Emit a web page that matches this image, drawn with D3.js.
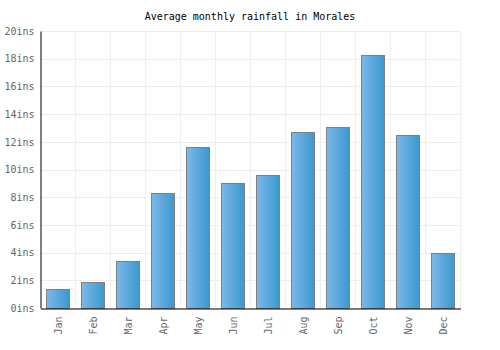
<!DOCTYPE html>
<html><head><meta charset="utf-8">
<script src="https://cdn.jsdelivr.net/npm/d3@7"></script>
<style>body{margin:0;background:#fff}svg{display:block}</style>
</head><body>
<script>
const months = ["Jan","Feb","Mar","Apr","May","Jun","Jul","Aug","Sep","Oct","Nov","Dec"];
const rainfall = [1.4, 1.9, 3.4, 8.3, 11.6, 9.0, 9.6, 12.7, 13.1, 18.3, 12.5, 4.0];
const yTicks = [0, 2, 4, 6, 8, 10, 12, 14, 16, 18, 20];
const title = "Average monthly rainfall in Morales";

const W = 500, H = 350;
const m = {l: 40.5, r: 39.5, t: 31, b: 42};
const svg = d3.select("body").append("svg").attr("width", W).attr("height", H);
const font = "'DejaVu Sans Mono', monospace";

const defs = svg.append("defs");
const g = defs.append("linearGradient").attr("id","bg").attr("x1","0").attr("x2","1").attr("y1","0").attr("y2","0");
g.append("stop").attr("offset","0").attr("stop-color","#7db8ea");
g.append("stop").attr("offset","1").attr("stop-color","#3a98cf");

const x = d3.scaleBand().domain(months).range([m.l, W - m.r]).paddingInner(0.333).paddingOuter(0.1667);
const xb = d3.scaleBand().domain(months).range([m.l, W - m.r]);
const y = d3.scaleLinear().domain([0, 20]).range([H - m.b, m.t]);

// grid
svg.append("g").selectAll("line.h").data(yTicks).join("line")
  .attr("x1", m.l).attr("x2", W - m.r)
  .attr("y1", d => Math.round(y(d)) + 0.5).attr("y2", d => Math.round(y(d)) + 0.5)
  .attr("stroke", "#eeeeee").attr("stroke-width", 1);
svg.append("g").selectAll("line.v").data(months.map(d => xb(d) + xb.bandwidth())).join("line")
  .attr("x1", d => d).attr("x2", d => d)
  .attr("y1", m.t).attr("y2", H - m.b)
  .attr("stroke", "#eeeeee").attr("stroke-width", 1);

// bars
svg.append("g").selectAll("rect").data(rainfall).join("rect")
  .attr("x", (d, i) => Math.round(x(months[i])) + 0.5)
  .attr("width", Math.round(x.bandwidth()))
  .attr("y", d => Math.round(y(d)) + 0.5)
  .attr("height", d => Math.round(y(0)) - Math.round(y(d)))
  .attr("fill", "url(#bg)").attr("stroke", "#808080").attr("stroke-width", 1);

// y axis
const ya = d3.axisLeft(y).tickValues(yTicks).tickSize(0).tickPadding(6).tickFormat(d => d + "ins");
const yg = svg.append("g").attr("transform", `translate(${m.l},0)`).call(ya);
yg.select(".domain").attr("stroke", "#000").attr("stroke-width", 1);
yg.selectAll("text").attr("font-family", font).attr("font-size", 10).attr("fill", "#666");

// x axis
const xa = d3.axisBottom(xb).tickSize(0).tickPadding(0);
const xg = svg.append("g").attr("transform", `translate(0,${Math.round(y(0)) + 0.5})`).call(xa);
xg.select(".domain").attr("stroke", "#000").attr("stroke-width", 1);
xg.selectAll("text").attr("font-family", font).attr("font-size", 10).attr("fill", "#666")
  .attr("transform", "rotate(-90)").attr("text-anchor", "end")
  .attr("x", -8).attr("y", 0).attr("dy", "0.35em");

svg.append("text").attr("x", W / 2).attr("y", 20).attr("text-anchor", "middle")
  .attr("font-family", font).attr("font-size", 10).attr("fill", "#000").text(title);
</script>
</body></html>
